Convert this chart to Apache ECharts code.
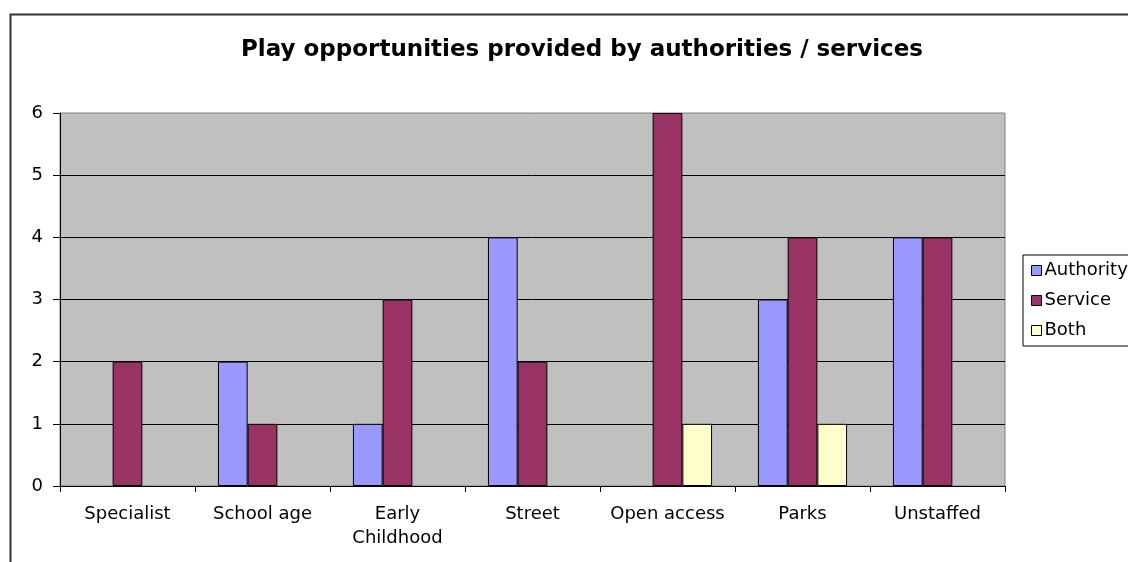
<!DOCTYPE html>
<html><head><meta charset="utf-8">
<script src="https://cdn.jsdelivr.net/npm/echarts@6/dist/echarts.min.js"></script>
<style>html,body{margin:0;padding:0;background:#fff}#c{width:1128px;height:562px}</style>
</head><body><div id="c"></div>
<script>
var categories = ['Specialist', 'School age', 'Early\nChildhood', 'Street', 'Open access', 'Parks', 'Unstaffed'];
var authority = [null, 2, 1, 4, null, 3, 4];
var service = [2, 1, 3, 2, 6, 4, 4];
var both = [null, null, null, null, 1, 1, null];
var yTicks = [0, 1, 2, 3, 4, 5, 6];

var font = 'DejaVu Sans, Liberation Sans, Arial, sans-serif';
var chart = echarts.init(document.getElementById('c'), null, {renderer: 'canvas'});
function bar(name, data, color) {
  return {name: name, type: 'bar', data: data, barGap: 0, barCategoryGap: '34%',
    itemStyle: {color: color, borderColor: '#000', borderWidth: 1}, animation: false};
}
chart.setOption({
  animation: false,
  title: {text: 'Play opportunities provided by authorities / services', left: 236, top: 34,
    textStyle: {fontFamily: font, fontSize: 23, fontWeight: 'bold', color: '#000'}},
  graphic: [{type: 'rect', shape: {x: 10.5, y: 14.5, width: 1300, height: 700},
    style: {fill: null, stroke: '#333', lineWidth: 2}, z: -10}],
  legend: {orient: 'vertical', left: 1023, top: 255, itemWidth: 10, itemHeight: 10, itemGap: 11,
    padding: [6, 20, 6, 8], borderColor: '#000', borderWidth: 1, backgroundColor: '#fff',
    icon: 'rect', itemStyle: {borderColor: '#000', borderWidth: 1},
    textStyle: {fontFamily: font, fontSize: 18, color: '#000', lineHeight: 19, padding: [0, 0, 0, -2]},
    data: ['Authority', 'Service', 'Both']},
  grid: {left: 60, top: 113, width: 945, height: 373, show: true, backgroundColor: '#C0C0C0',
    borderColor: '#808080', borderWidth: 1},
  xAxis: {type: 'category', data: categories,
    axisLine: {lineStyle: {color: '#000', width: 1}},
    axisTick: {show: true, length: 6, lineStyle: {color: '#000'}},
    axisLabel: {fontFamily: font, fontSize: 18, color: '#000', margin: 16, lineHeight: 24, interval: 0}},
  yAxis: {type: 'value', min: yTicks[0], max: yTicks[yTicks.length - 1], interval: 1,
    axisLine: {show: true, lineStyle: {color: '#000', width: 1}},
    axisTick: {show: true, length: 7, lineStyle: {color: '#000'}},
    splitLine: {showMaxLine: false, lineStyle: {color: '#000', width: 1}},
    axisLabel: {fontFamily: font, fontSize: 18, color: '#000', margin: 17}},
  series: [bar('Authority', authority, '#9999FF'), bar('Service', service, '#993366'), bar('Both', both, '#FFFFCC')]
});
</script></body></html>
